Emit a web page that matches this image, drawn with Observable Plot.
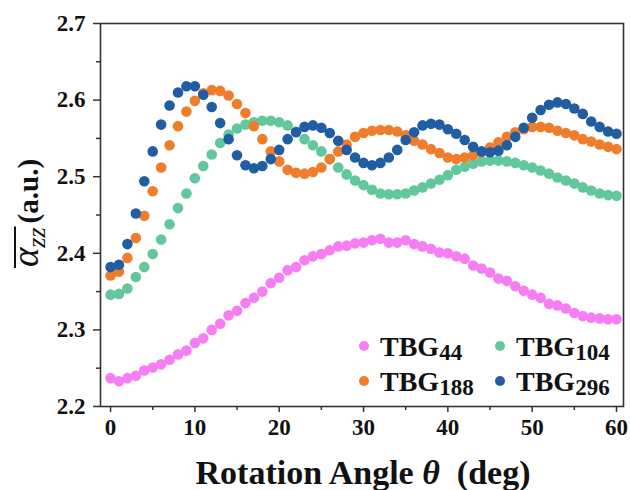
<!DOCTYPE html>
<html><head><meta charset="utf-8">
<script src="https://cdn.jsdelivr.net/npm/d3@7"></script>
<script src="https://cdn.jsdelivr.net/npm/@observablehq/plot@0.6"></script>
<style>body{margin:0;background:#fff} #chart{width:630px;height:490px;overflow:hidden}</style>
</head><body><div id="chart"></div>
<script>
const angles = [0,1,2,3,4,5,6,7,8,9,10,11,12,13,14,15,16,17,18,19,20,21,22,23,24,25,26,27,28,29,30,31,32,33,34,35,36,37,38,39,40,41,42,43,44,45,46,47,48,49,50,51,52,53,54,55,56,57,58,59,60];
const tbg44 = [2.237,2.233,2.237,2.240,2.247,2.251,2.255,2.261,2.268,2.273,2.283,2.289,2.300,2.308,2.319,2.325,2.335,2.342,2.350,2.361,2.368,2.378,2.382,2.391,2.396,2.399,2.404,2.409,2.410,2.413,2.414,2.417,2.419,2.414,2.414,2.417,2.412,2.409,2.406,2.401,2.400,2.396,2.393,2.384,2.380,2.375,2.367,2.364,2.357,2.351,2.346,2.342,2.334,2.332,2.328,2.322,2.318,2.316,2.315,2.314,2.314];
const tbg104 = [2.346,2.347,2.354,2.369,2.382,2.399,2.418,2.438,2.459,2.478,2.498,2.514,2.529,2.544,2.555,2.563,2.568,2.571,2.573,2.573,2.571,2.567,2.559,2.549,2.541,2.533,2.523,2.512,2.503,2.495,2.489,2.483,2.478,2.477,2.477,2.478,2.482,2.486,2.491,2.496,2.502,2.509,2.513,2.517,2.520,2.521,2.521,2.520,2.518,2.515,2.512,2.508,2.504,2.499,2.495,2.491,2.486,2.482,2.478,2.476,2.475];
const tbg188 = [2.371,2.376,2.394,2.420,2.449,2.481,2.512,2.541,2.566,2.585,2.599,2.609,2.613,2.612,2.606,2.595,2.583,2.566,2.549,2.533,2.520,2.509,2.505,2.504,2.506,2.512,2.523,2.533,2.542,2.552,2.557,2.560,2.561,2.561,2.559,2.554,2.547,2.542,2.536,2.531,2.525,2.523,2.525,2.528,2.532,2.538,2.545,2.552,2.558,2.562,2.565,2.565,2.564,2.560,2.557,2.554,2.549,2.546,2.542,2.539,2.536];
const tbg296 = [2.382,2.385,2.412,2.452,2.494,2.533,2.568,2.593,2.610,2.618,2.618,2.607,2.591,2.570,2.549,2.528,2.515,2.511,2.514,2.523,2.535,2.549,2.558,2.565,2.567,2.564,2.557,2.547,2.535,2.525,2.518,2.515,2.518,2.525,2.535,2.548,2.558,2.567,2.569,2.568,2.562,2.556,2.548,2.539,2.533,2.532,2.534,2.541,2.552,2.564,2.577,2.587,2.594,2.597,2.595,2.589,2.582,2.572,2.565,2.559,2.556];
const seriesNames = ["TBG44","TBG104","TBG188","TBG296"];
const seriesSubs = ["44","104","188","296"];
const seriesColors = ["#f57ff2","#62c79d","#ee7e2c","#215da3"];
const xTicks = [0,10,20,30,40,50,60];
const xMinorTicks = [5,15,25,35,45,55];
const yTicks = [2.2,2.3,2.4,2.5,2.6,2.7];
const yMinorTicks = [2.25,2.35,2.45,2.55,2.65];

const seriesValues = [tbg44, tbg104, tbg188, tbg296];
const data = seriesNames.flatMap((s, i) => angles.map((a, j) => ({angle: a, value: seriesValues[i][j], series: s})));

const font = "'Liberation Serif', 'Times New Roman', serif";
const axisColor = "#333";
const chart = Plot.plot({
  width: 630, height: 490,
  marginLeft: 100, marginRight: 7, marginTop: 23, marginBottom: 84,
  style: {fontFamily: font, fontWeight: "bold", fontSize: "23px", color: "#111", background: "#fff"},
  x: {domain: [-1.19, 60.83], label: null},
  y: {domain: [2.2, 2.7], label: null},
  color: {domain: seriesNames, range: seriesColors},
  marks: [
    Plot.dot(data, {x: "angle", y: "value", fill: "series", r: 5.3}),
    Plot.frame({stroke: axisColor, strokeWidth: 1.6}),
    Plot.axisX(xTicks, {tickSize: 6, tickPadding: 6, tickFormat: d => String(d), stroke: axisColor, strokeWidth: 1.5}),
    Plot.axisX(xMinorTicks, {tickSize: 4, tickFormat: () => "", stroke: axisColor, strokeWidth: 1.5}),
    Plot.axisY(yTicks, {tickSize: 7, tickPadding: 8, tickFormat: d3.format(".1f"), stroke: axisColor, strokeWidth: 1.5}),
    Plot.axisY(yMinorTicks, {tickSize: 4, tickFormat: () => "", stroke: axisColor, strokeWidth: 1.5})
  ]
});
document.getElementById("chart").append(chart);
const svg = d3.select(chart);

// Y axis title
const gy = svg.append("g").attr("transform", "translate(38,213) rotate(-90)")
  .attr("font-family", font).attr("fill", "#111").attr("text-anchor", "start");
const tA = gy.append("text").attr("font-style", "italic").attr("font-weight", "normal").attr("font-size", 37).text("α");
const tZ = gy.append("text").attr("font-style", "italic").attr("font-weight", "normal").attr("font-size", 26).attr("dy", 7).text("zz");
const tU = gy.append("text").attr("font-weight", "bold").attr("font-size", 29).text("(a.u.)");
const wA = tA.node().getComputedTextLength();
const wZ = tZ.node().getComputedTextLength();
const wU = tU.node().getComputedTextLength();
const gap = 4;
const total = wA + wZ + gap + wU;
let x0 = -total / 2;
tA.attr("x", x0);
tZ.attr("x", x0 + wA);
tU.attr("x", x0 + wA + wZ + gap);
gy.append("line").attr("x1", x0 - 1).attr("x2", x0 + wA + wZ + 1).attr("y1", -23).attr("y2", -23)
  .attr("stroke", "#111").attr("stroke-width", 2);

// X axis title
const tx = svg.append("text").attr("x", 363).attr("y", 484).attr("text-anchor", "middle")
  .attr("font-family", font).attr("font-weight", "bold").attr("font-size", 34).attr("fill", "#111");
tx.append("tspan").text("Rotation Angle ");
tx.append("tspan").attr("font-style", "italic").text("θ");
tx.append("tspan").text("\u00a0 (deg)");

// Legend
const lg = svg.append("g").attr("font-family", font).attr("font-weight", "bold").attr("fill", "#111").attr("text-anchor", "start");
seriesNames.forEach((s, i) => {
  const row = Math.floor(i / 2), col = i % 2;
  const cx = 364 + col * 136, cy = 346 + row * 35;
  lg.append("circle").attr("cx", cx).attr("cy", cy).attr("r", 5).attr("fill", seriesColors[i]);
  const t = lg.append("text").attr("x", cx + 16).attr("y", cy + 10).attr("font-size", 28);
  t.append("tspan").text("TBG");
  t.append("tspan").attr("font-size", 23).attr("dy", 4).text(seriesSubs[i]);
});
</script>
</body></html>
